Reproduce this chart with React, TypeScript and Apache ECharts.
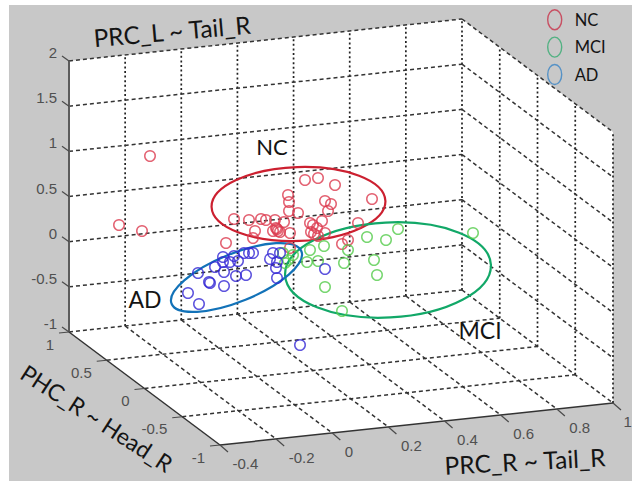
import React, { useEffect, useRef } from "react";
import * as echarts from "echarts";

const W = 632;
const H = 481;

// tick labels
const xTicks = [-0.4, -0.2, 0, 0.2, 0.4, 0.6, 0.8, 1];
const yTicks = [1, 0.5, 0, -0.5, -1];
const zTicks = [2, 1.5, 1, 0.5, 0, -0.5, -1];

// points, in picture units
const ncPoints = [
  [150, 156], [119, 225], [142, 231], [226, 243], [305, 180], [318, 178], [335, 185], [288, 195], [289, 202],
  [289, 211], [298, 213], [325, 201], [331, 204], [328, 211], [372, 199], [234, 219], [249, 220], [261, 219],
  [266, 220], [275, 220], [284, 222], [255, 231], [273, 231], [277, 229], [280, 232], [276, 228], [278, 231],
  [290, 233], [310, 223], [322, 221], [313, 225], [311, 232], [317, 228], [314, 234], [325, 233], [318, 236],
  [253, 238], [342, 244], [348, 240], [358, 223], [290, 248],
];
const mciPoints = [
  [398, 229], [473, 233], [367, 237], [386, 240], [348, 250], [344, 263], [374, 260], [377, 275], [325, 287],
  [342, 311], [307, 262], [318, 261], [324, 246], [310, 250], [283, 253], [288, 260], [285, 263], [293, 255],
];
const adPoints = [
  [188, 293], [199, 304], [198, 273], [209, 282], [210, 283], [224, 286], [215, 267], [223, 262], [224, 272],
  [230, 262], [234, 256], [238, 261], [236, 276], [246, 275], [244, 253], [253, 253], [249, 253], [270, 259],
  [273, 253], [276, 268], [277, 278], [277, 262], [325, 269], [223, 257], [300, 345], [280, 253],
];
// cx, cy, rx, ry, tilt in degrees
const ncEllipse = [298.5, 204, 87, 37, -2];
const mciEllipse = [388, 270, 103, 47.5, -3];
const adEllipse = [236.5, 277.5, 70, 24, -22];

// picture axes box: x in [-0.4, 1], y in [-1, 1], z in [-1, 2]
const project = (x: number, y: number, z: number): [number, number] => [
  69 + ((x + 0.4) / 1.4) * 393 + ((1 - y) / 2) * 151,
  332 - ((x + 0.4) / 1.4) * 42 + ((1 - y) / 2) * 113 - ((z + 1) / 3) * 271,
];

type Seg = number[];
const seg = (a: [number, number], b: [number, number]): Seg => [a[0], a[1], b[0], b[1]];

const dottedSegs: Seg[] = [];
const dashedSegs: Seg[] = [];
xTicks.slice(1).forEach((x) => dottedSegs.push(seg(project(x, 1, -1), project(x, 1, 2))));
yTicks.slice(1).forEach((y) => dottedSegs.push(seg(project(1, y, -1), project(1, y, 2))));
zTicks.forEach((z) => {
  dashedSegs.push(seg(project(-0.4, 1, z), project(1, 1, z)));
  dashedSegs.push(seg(project(1, 1, z), project(1, -1, z)));
});
xTicks.slice(1, -1).forEach((x) => dashedSegs.push(seg(project(x, 1, -1), project(x, -1, -1))));
yTicks.slice(1, -1).forEach((y) => dashedSegs.push(seg(project(-0.4, y, -1), project(1, y, -1))));

const solidSegs: Seg[] = [
  seg(project(-0.4, 1, -1), project(-0.4, -1, -1)),
  seg(project(-0.4, -1, -1), project(1, -1, -1)),
];
const leftAxisSegs: Seg[] = [seg(project(-0.4, 1, -1), project(-0.4, 1, 2))];
const tickSegs: Seg[] = [];
const nudge = (p: [number, number], dx: number, dy: number): [number, number] => [p[0] + dx, p[1] + dy];
xTicks.forEach((x) => { const p = project(x, -1, -1); tickSegs.push(seg(p, nudge(p, 8, 7))); });
yTicks.forEach((y) => { const p = project(-0.4, y, -1); tickSegs.push(seg(p, nudge(p, -10, 1))); });
zTicks.forEach((z) => { const p = project(-0.4, 1, z); tickSegs.push(seg(p, nudge(p, -7, -5))); });

const segSeries = (data: Seg[], stroke: string, lineWidth: number, lineDash?: number[]) => ({
  type: "custom",
  silent: true,
  z: 1,
  clip: false,
  data,
  encode: { x: [0, 2], y: [1, 3] },
  renderItem: (_: any, api: any) => {
    const a = api.coord([api.value(0), api.value(1)]);
    const b = api.coord([api.value(2), api.value(3)]);
    return {
      type: "line",
      shape: { x1: a[0], y1: a[1], x2: b[0], y2: b[1] },
      style: { stroke, lineWidth, lineDash, fill: "none" },
    };
  },
});

const ellipseSeries = (e: number[], stroke: string) => ({
  type: "custom",
  silent: true,
  z: 2,
  clip: false,
  data: [e],
  encode: { x: 0, y: 1 },
  renderItem: (_: any, api: any) => {
    const c = api.coord([api.value(0), api.value(1)]);
    const rx = api.value(2);
    const ry = api.value(3);
    return {
      type: "ellipse",
      x: c[0],
      y: c[1],
      rotation: (-api.value(4) * Math.PI) / 180,
      shape: { cx: 0, cy: 0, rx, ry },
      style: { stroke, lineWidth: 2.2, fill: "none" },
    };
  },
});

const scatter = (name: string, data: number[][], color: string) => ({
  name,
  type: "scatter",
  z: 3,
  silent: true,
  data,
  symbol: "circle",
  symbolSize: 10.5,
  itemStyle: { color: "transparent", borderColor: color, borderWidth: 1.5 },
});

const tickFont = "'Liberation Sans', Arial, sans-serif";
const noteFont = "Lato, 'Noto Sans', sans-serif";
const legendIcon = "path://M7 0A7 10 0 1 1 7 20A7 10 0 1 1 7 0Z";
const tickText = (text: string, p: [number, number], dx: number, dy: number, align: string) => ({
  type: "text",
  z: 50,
  x: Math.min(p[0] + dx, align === "left" ? W - text.length * 8.4 : W),
  y: p[1] + dy,
  silent: true,
  style: {
    text,
    fill: "#505050",
    font: `15px ${tickFont}`,
    textAlign: align,
    textVerticalAlign: "middle",
  },
});
const noteText = (text: string, x: number, y: number, size: number, deg = 0) => ({
  type: "text",
  z: 60,
  x,
  y,
  rotation: (deg * Math.PI) / 180,
  silent: true,
  style: {
    text,
    fill: "#141414",
    font: `${size}px ${noteFont}`,
    textAlign: "center",
    textVerticalAlign: "middle",
  },
});

export default function App() {
  const ref = useRef<HTMLDivElement>(null);
  useEffect(() => {
    const chart = echarts.init(ref.current!, undefined, { renderer: "svg" });
    const box = [
      project(-0.4, 1, 2), project(1, 1, 2), project(1, -1, 2),
      project(1, -1, -1), project(-0.4, -1, -1), project(-0.4, 1, -1),
    ];
    chart.setOption({
      animation: false,
      backgroundColor: "#ffffff",
      grid: { left: 0, right: 0, top: 0, bottom: 0 },
      xAxis: { type: "value", min: 0, max: W, show: false },
      yAxis: { type: "value", min: 0, max: H, inverse: true, show: false },
      legend: {
        orient: "vertical",
        left: 547,
        top: 9,
        padding: 0,
        itemWidth: 14,
        itemHeight: 20,
        itemGap: 6,
        icon: legendIcon,
        symbolKeepAspect: false,
        selectedMode: false,
        textStyle: { color: "#141414", fontFamily: "Lato", fontSize: 16.5, padding: [0, 0, 0, 8] },
        data: [
          { name: "NC", itemStyle: { color: "transparent", borderColor: "#c8324a", borderWidth: 1.4 } },
          { name: "MCI", itemStyle: { color: "transparent", borderColor: "#35ab70", borderWidth: 1.4 } },
          { name: "AD", itemStyle: { color: "transparent", borderColor: "#3a85c5", borderWidth: 1.4 } },
        ],
      },
      graphic: [
        { type: "rect", z: -10, silent: true, shape: { x: 9, y: 5, width: W - 9, height: H - 5 }, style: { fill: "#c8c8c8" } },
        { type: "polygon", z: -9, silent: true, shape: { points: box }, style: { fill: "#ffffff" } },
        ...xTicks.map((x) => tickText(String(x), project(x, -1, -1), 12.5, 18, "left")),
        ...yTicks.map((y) => tickText(String(y), project(-0.4, y, -1), -15, 12, "right")),
        ...zTicks.map((z) => tickText(String(z), project(-0.4, 1, z), -12, -8.5, "right")),
        noteText("NC", 272, 146, 22),
        noteText("AD", 145, 299, 23),
        noteText("MCI", 480, 330, 23),
        noteText("PRC_L ~ Tail_R", 172, 31, 24.5, 5),
        noteText("PHC_R ~ Head_R", 97, 418, 23, -33),
        noteText("PRC_R ~ Tail_R", 525, 461, 24.5, 3),
      ],
      series: [
        segSeries(dottedSegs, "#222222", 1.7, [2, 2.6]),
        segSeries(dashedSegs, "#333333", 1.5, [4, 3]),
        segSeries(leftAxisSegs, "#5c5c5c", 2),
        segSeries(solidSegs, "#333333", 1.5),
        segSeries(tickSegs, "#4a4a4a", 1.2),
        ellipseSeries(ncEllipse, "#cc2030"),
        ellipseSeries(mciEllipse, "#12a868"),
        ellipseSeries(adEllipse, "#1272b8"),
        scatter("NC", ncPoints, "#dc3c50"),
        scatter("MCI", mciPoints, "#55cc4c"),
        scatter("AD", adPoints, "#3428d4"),
      ],
    });
    return () => chart.dispose();
  }, []);
  return <div ref={ref} style={{ position: "absolute", left: 0, top: 0, width: W, height: H }} />;
}
